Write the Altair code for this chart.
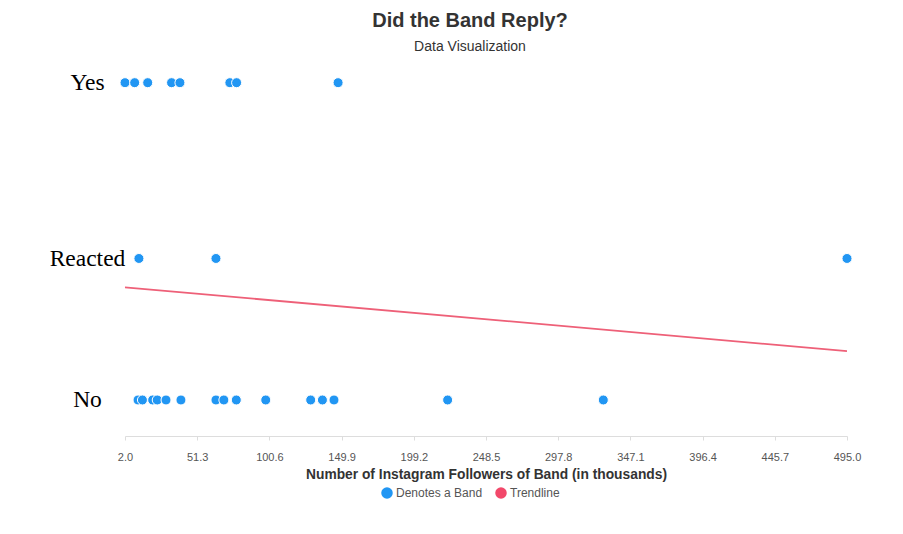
import altair as alt
import pandas as pd

# ---- data ----
yes_followers = [2.0, 8.6, 17.5, 33.8, 39.5, 73.6, 78.2, 147.5]
reacted_followers = [11.5, 64.1, 495.0]
no_followers = [10.9, 13.9, 20.9, 24.0, 30.0, 40.2, 64.1, 69.5, 78.0,
                98.1, 128.8, 136.8, 144.7, 222.3, 328.6]

reply_labels = ["No", "Reacted", "Yes"]
reply_levels = [0.0, 0.446, 1.0]

trend_x = [2.0, 495.0]
trend_y = [0.355, 0.154]

x_ticks = [2.0, 51.3, 100.6, 149.9, 199.2, 248.5, 297.8, 347.1, 396.4, 445.7, 495.0]

level_of = dict(zip(reply_labels, reply_levels))
rows = []
for lab, vals in (("Yes", yes_followers), ("Reacted", reacted_followers), ("No", no_followers)):
    for v in vals:
        rows.append({"followers": v, "reply": lab, "level": level_of[lab], "series": "Denotes a Band"})
points_df = pd.DataFrame(rows)
trend_df = pd.DataFrame({"followers": trend_x, "level": trend_y})

BLUE = "#2196f3"
RED = "#f2486a"
FONT = "Liberation Sans"

label_expr = " : ".join(
    f"datum.value == {lv} ? '{lb}'" for lb, lv in zip(reply_labels, reply_levels)
) + " : ''"

x_enc = alt.X(
    "followers:Q",
    scale=alt.Scale(domain=[2.0, 495.0], nice=False, zero=False),
    axis=alt.Axis(
        values=x_ticks, format=".1f", grid=False,
        title="Number of Instagram Followers of Band (in thousands)",
        titleFont=FONT, titleFontSize=13.8, titleFontWeight="bold", titleColor="#333",
        titlePadding=5,
        labelFont=FONT, labelFontSize=11, labelColor="#555", labelPadding=11,
        domainColor="#dddddd", tickColor="#dddddd", tickSize=4,
        labelFlush=False, labelOverlap=False,
    ),
)
y_enc = alt.Y(
    "level:Q",
    scale=alt.Scale(domain=[-0.1135, 1.0715], nice=False, zero=False),
    axis=alt.Axis(
        values=reply_levels, labelExpr=label_expr, title=None,
        grid=False, domain=False, ticks=False,
        labelFont="Liberation Serif", labelFontSize=23.5, labelColor="#000",
        labelAlign="center", labelBaseline="middle", labelPadding=38,
    ),
)

points = alt.Chart(points_df).mark_circle(
    size=100, opacity=1, stroke="white", strokeWidth=1
).encode(
    x=x_enc,
    y=y_enc,
    color=alt.Color(
        "series:N",
        scale=alt.Scale(domain=["Denotes a Band", "Trendline"], range=[BLUE, RED]),
        legend=alt.Legend(
            title=None, orient="none", legendX=256, legendY=427,
            direction="horizontal", symbolType="circle", symbolSize=133,
            symbolStrokeWidth=0, labelFont=FONT, labelFontSize=12,
            labelColor="#555", columnPadding=12, labelOffset=3, padding=0,
        ),
    ),
)

trend = alt.Chart(trend_df).mark_line(color="#ee6078", strokeWidth=1.8).encode(
    x="followers:Q", y="level:Q"
)

chart = alt.layer(trend, points).properties(
    width=722,
    height=376,
    background="white",
    padding={"left": 117, "top": 52, "right": 24, "bottom": 84},
    autosize=alt.AutoSizeParams(type="none"),
    title=alt.TitleParams(
        "Did the Band Reply?", subtitle="Data Visualization",
        font=FONT, fontSize=20, fontWeight="bold", color="#333",
        subtitleFont=FONT, subtitleFontSize=14, subtitleColor="#333",
        anchor="middle", frame="group", dx=-16, offset=6, subtitlePadding=9,
    ),
).configure_view(strokeWidth=0, stroke="transparent")

chart.save("out.html", embed_options={"renderer": "svg", "actions": False})
